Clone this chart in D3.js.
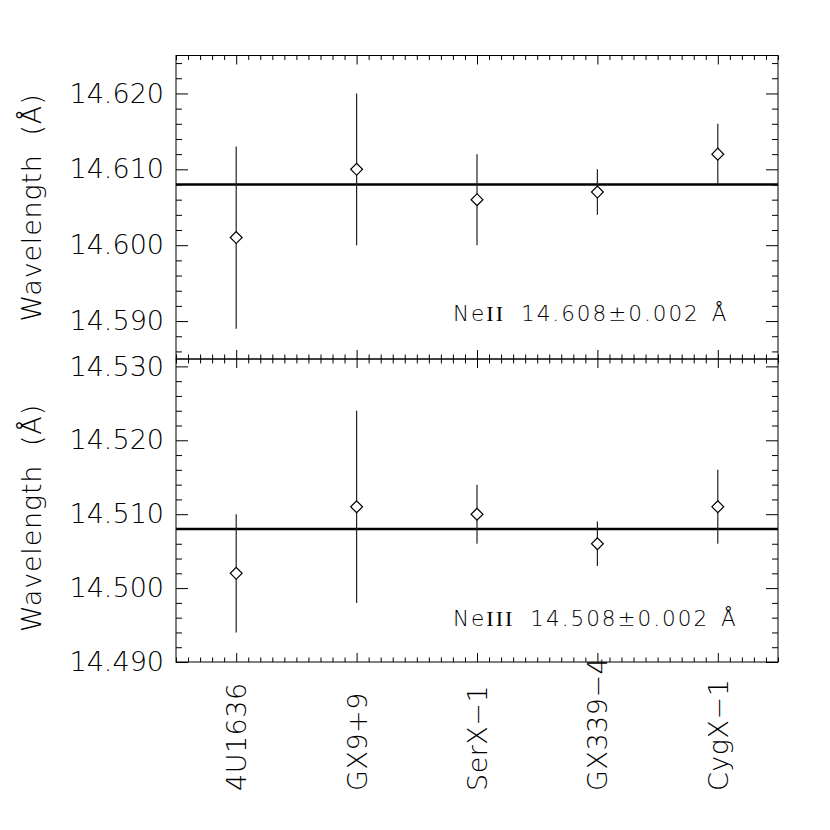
<!DOCTYPE html>
<html>
<head>
<meta charset="utf-8">
<script src="https://cdn.jsdelivr.net/npm/d3@7"></script>
<style>
  html, body { margin: 0; padding: 0; background: #fff; }
  svg text { font-family: "DejaVu Sans", sans-serif; font-weight: 200; fill: #000; }
</style>
</head>
<body>
<svg id="chart" width="830" height="830"></svg>
<script>
// ---- data ----
const sources = ["4U1636", "GX9+9", "SerX\u22121", "GX339\u22124", "CygX\u22121"];
const neII = [14.601, 14.610, 14.606, 14.607, 14.612];
const neIIerr = [0.012, 0.010, 0.006, 0.003, 0.004];
const neIII = [14.502, 14.511, 14.510, 14.506, 14.511];
const neIIIerr = [0.008, 0.013, 0.004, 0.003, 0.005];
const refLines = [14.608, 14.508];
const yTicksTop = [14.590, 14.600, 14.610, 14.620];
const yTicksBottom = [14.490, 14.500, 14.510, 14.520, 14.530];
const labels = [["NeII", "14.608\u00b10.002", "\u00c5"], ["NeIII", "14.508\u00b10.002", "\u00c5"]];

const svg = d3.select("#chart");
const L = 176, R = 778;
const x = d3.scaleLinear().domain([0.5, 5.5]).range([L, R]);

const panels = [
  { vals: neII, errs: neIIerr, ref: refLines[0], ticks: yTicksTop, domain: [14.585, 14.625], y0: 55.5, y1: 359, lab: labels[0], titleY: 207.5 },
  { vals: neIII, errs: neIIIerr, ref: refLines[1], ticks: yTicksBottom, domain: [14.490, 14.531], y0: 359, y1: 662, lab: labels[1], titleY: 518 }
];

const xMajor = d3.range(1, 6);
const xMinor = d3.range(5, 56).map(d => d / 10).filter(d => Math.abs(d - Math.round(d)) > 1e-6);

panels.forEach((p, i) => {
  const y = d3.scaleLinear().domain(p.domain).range([p.y1, p.y0]);
  const g = svg.append("g");

  const minorY = [];
  for (let v = Math.ceil(p.domain[0] * 500 - 1e-6); v / 500 <= p.domain[1] + 1e-9; v++) {
    const val = v / 500;
    if (Math.abs(val * 100 - Math.round(val * 100)) > 1e-6) minorY.push(val);
  }
  const majorY = [];
  for (let v = Math.ceil(p.domain[0] * 100 - 1e-6); v / 100 <= p.domain[1] + 1e-9; v++) majorY.push(v / 100);

  const axes = [
    { gen: d3.axisLeft(y).tickValues(majorY).tickSize(-12).tickPadding(12).tickFormat(d => p.ticks.some(t => Math.abs(t - d) < 1e-6) ? d3.format(".3f")(d) : ""), tr: `translate(${L},0)` },
    { gen: d3.axisLeft(y).tickValues(minorY).tickSize(-6).tickFormat(""), tr: `translate(${L},0)` },
    { gen: d3.axisRight(y).tickValues(majorY).tickSize(-12).tickFormat(""), tr: `translate(${R},0)` },
    { gen: d3.axisRight(y).tickValues(minorY).tickSize(-6).tickFormat(""), tr: `translate(${R},0)` },
    { gen: d3.axisTop(x).tickValues(xMajor).tickSize(-9).tickFormat(""), tr: `translate(0,${p.y0})` },
    { gen: d3.axisTop(x).tickValues(xMinor).tickSize(-4.5).tickFormat(""), tr: `translate(0,${p.y0})` },
    { gen: d3.axisBottom(x).tickValues(xMajor).tickSize(-9).tickFormat(""), tr: `translate(0,${p.y1})` },
    { gen: d3.axisBottom(x).tickValues(xMinor).tickSize(-4.5).tickFormat(""), tr: `translate(0,${p.y1})` }
  ];
  axes.forEach(a => {
    const ag = g.append("g").attr("transform", a.tr).call(a.gen.tickSizeOuter(0));
    ag.select(".domain").remove();
    ag.selectAll("line").attr("stroke", "#000").attr("stroke-width", 1);
    ag.selectAll("text").attr("font-size", 27).attr("font-family", null).attr("fill", "#000");
  });

  g.append("rect").attr("x", L).attr("y", p.y0).attr("width", R - L).attr("height", p.y1 - p.y0)
    .attr("fill", "none").attr("stroke", "#000").attr("stroke-width", 1);

  g.append("line").attr("x1", L).attr("x2", R).attr("y1", y(p.ref)).attr("y2", y(p.ref))
    .attr("stroke", "#000").attr("stroke-width", 2.5);

  g.selectAll(".err").data(p.vals).join("line")
    .attr("x1", (d, j) => x(j + 1)).attr("x2", (d, j) => x(j + 1))
    .attr("y1", (d, j) => y(d - p.errs[j])).attr("y2", (d, j) => y(d + p.errs[j]))
    .attr("stroke", "#222").attr("stroke-width", 1.2);

  const sym = d3.symbol().type(d3.symbolSquare).size(70);
  g.selectAll(".pt").data(p.vals).join("path")
    .attr("d", sym)
    .attr("transform", (d, j) => `translate(${x(j + 1)},${y(d)}) rotate(45)`)
    .attr("fill", "#fff").attr("stroke", "#000").attr("stroke-width", 1.2);

  svg.append("text")
    .attr("transform", `translate(41,${p.titleY}) rotate(-90)`)
    .attr("text-anchor", "middle").attr("font-size", 27).attr("letter-spacing", 0.8)
    .attr("xml:space", "preserve")
    .text("Wavelength  (\u00c5)");

  const t = svg.append("text").attr("x", 453).attr("y", i === 0 ? 320.5 : 626)
    .attr("font-size", 21.5).attr("letter-spacing", 2).attr("xml:space", "preserve");
  t.append("tspan").text(p.lab[0].slice(0, 2));
  t.append("tspan").style("font-family", "'Liberation Serif', serif").style("font-weight", 400).attr("font-size", 22).text(p.lab[0].slice(2));
  t.append("tspan").attr("dx", 16).text(p.lab[1]);
  t.append("tspan").attr("dx", 12).text(p.lab[2]);
});

svg.selectAll(".xl").data(sources).join("text")
  .attr("transform", (d, j) => `translate(${x(j + 1) + 10},791) rotate(-90)`)
  .attr("text-anchor", "start").attr("font-size", 27).attr("letter-spacing", 0.5)
  .text(d => d);
</script>
</body>
</html>
